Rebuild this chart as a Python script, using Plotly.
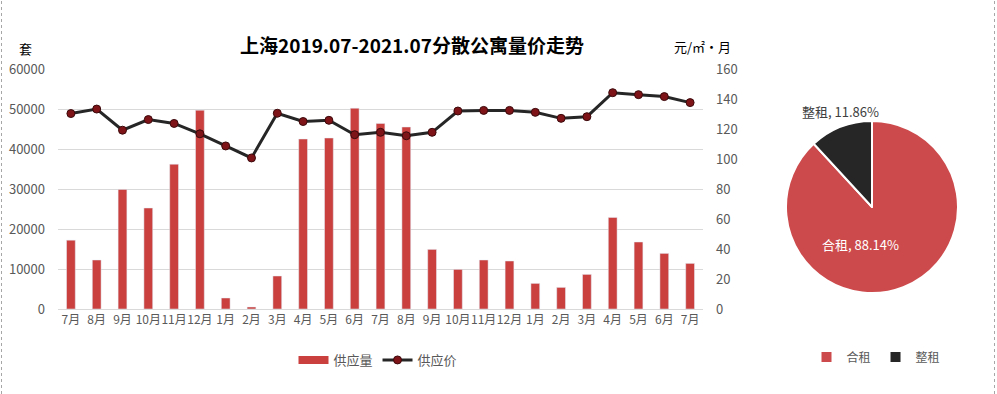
import plotly.graph_objects as go

months = ["7月", "8月", "9月", "10月", "11月", "12月", "1月", "2月", "3月", "4月", "5月", "6月",
          "7月", "8月", "9月", "10月", "11月", "12月", "1月", "2月", "3月", "4月", "5月", "6月", "7月"]
supply = [17200, 12250, 29900, 25250, 36200, 49700, 2750, 500, 8250, 42500, 42750, 50200,
          46400, 45500, 14900, 9900, 12250, 12000, 6400, 5400, 8650, 22900, 16750, 13900, 11400]
price = [130.3, 133.3, 119.2, 126.3, 123.7, 116.8, 108.7, 100.7, 130.5, 125.0, 125.8, 116.2,
         117.8, 115.5, 117.8, 132.0, 132.4, 132.4, 131.1, 127.1, 128.2, 144.2, 142.9, 141.6, 137.6]
left_ticks = [0, 10000, 20000, 30000, 40000, 50000, 60000]
right_ticks = [0, 20, 40, 60, 80, 100, 120, 140, 160]
pie_labels = ["合租", "整租"]
pie_values = [88.14, 11.86]

W, H = 997, 394
FONT = "Noto Sans CJK SC"
BAR_RED = "#C9403F"
x_cat = list(range(len(months)))

def px_x(v):
    return v / W

def px_y(v):
    return (H - v) / H

fig = go.Figure()
fig.add_trace(go.Bar(x=x_cat, y=supply, name="供应量", marker_color=BAR_RED,
                     yaxis="y", showlegend=False))
# legend proxy for the bar (wide rectangle swatch)
fig.add_trace(go.Scatter(x=[None], y=[None], name="供应量", mode="lines",
                         line=dict(color=BAR_RED, width=8), legend="legend"))
fig.add_trace(go.Scatter(x=x_cat, y=price, name="供应价", yaxis="y2", mode="lines+markers",
                         line=dict(color="#262626", width=3),
                         marker=dict(size=8, color="#7E1418", line=dict(color="#3C0A0C", width=1)),
                         legend="legend"))
fig.add_trace(go.Pie(labels=pie_labels, values=pie_values, sort=False, direction="clockwise",
                     rotation=0, marker=dict(colors=["#CD4A4C", "#262626"], line=dict(color="white", width=2)),
                     textinfo="none",
                     domain=dict(x=[px_x(786), px_x(958)], y=[px_y(293), px_y(121)]),
                     legend="legend2", hoverinfo="label+percent"))

total = sum(pie_values)
pie_text = [f"{lab}, {val / total * 100:.2f}%" for lab, val in zip(pie_labels, pie_values)]

fig.update_layout(
    width=W, height=H, margin=dict(l=0, r=0, t=0, b=0, autoexpand=False),
    paper_bgcolor="white", plot_bgcolor="white",
    font=dict(family=FONT, color="#595959", size=13),
    bargap=0.66,
    xaxis=dict(domain=[px_x(58), px_x(703)], range=[-0.5, len(months) - 0.5],
               tickmode="array", tickvals=x_cat, ticktext=months, tickangle=0,
               showline=True, linecolor="#D9D9D9", linewidth=1, ticks="",
               showgrid=False, tickfont=dict(size=12, color="#595959"), automargin=False),
    yaxis=dict(domain=[px_y(309), px_y(69)], range=[0, 60000],
               tickmode="array", tickvals=left_ticks, ticktext=[str(v) for v in left_ticks],
               showgrid=True, gridcolor="#D9D9D9", zeroline=False,
               tickfont=dict(size=13, color="#595959"), ticks="", ticklabelstandoff=12,
               automargin=False),
    yaxis2=dict(overlaying="y", side="right", range=[0, 160],
                tickmode="array", tickvals=right_ticks, ticktext=[str(v) for v in right_ticks],
                showgrid=False, zeroline=False, tickfont=dict(size=13, color="#595959"), ticks="",
                ticklabelstandoff=12, automargin=False),
    legend=dict(orientation="h", x=px_x(378), xanchor="center", y=px_y(360), yanchor="middle",
                font=dict(size=13, color="#595959"), itemwidth=30, bgcolor="rgba(0,0,0,0)"),
    legend2=dict(orientation="h", x=px_x(876), xanchor="center", y=px_y(357), yanchor="middle",
                 font=dict(size=12, color="#595959"), itemwidth=30, bgcolor="rgba(0,0,0,0)"),
    annotations=[
        dict(text="<b>上海2019.07-2021.07分散公寓量价走势</b>", x=px_x(412), y=px_y(45),
             xref="paper", yref="paper", showarrow=False, xanchor="center", yanchor="middle",
             font=dict(size=19, color="#000000", family=FONT)),
        dict(text="套", x=px_x(25), y=px_y(48), xref="paper", yref="paper", showarrow=False,
             xanchor="center", yanchor="middle", font=dict(size=13, color="#000000")),
        dict(text="元/㎡·月", x=px_x(702), y=px_y(47), xref="paper", yref="paper", showarrow=False,
             xanchor="center", yanchor="middle", font=dict(size=13, color="#000000")),
        dict(text=pie_text[0], x=px_x(860), y=px_y(245), xref="paper", yref="paper",
             showarrow=False, xanchor="center", yanchor="middle",
             font=dict(size=13, color="white")),
        dict(text=pie_text[1], x=px_x(840), y=px_y(111), xref="paper", yref="paper",
             showarrow=False, xanchor="center", yanchor="middle",
             font=dict(size=13, color="#404040")),
    ],
    shapes=[
        dict(type="line", xref="paper", yref="paper", x0=px_x(1.5), x1=px_x(1.5), y0=0, y1=1,
             line=dict(color="#A6A6A6", width=1, dash="dot")),
        dict(type="line", xref="paper", yref="paper", x0=px_x(994.5), x1=px_x(994.5), y0=0, y1=1,
             line=dict(color="#A6A6A6", width=1, dash="dot")),
    ],
)

fig.write_html("out.html", config={"displayModeBar": False},
               post_script="document.body.style.margin='0';")
